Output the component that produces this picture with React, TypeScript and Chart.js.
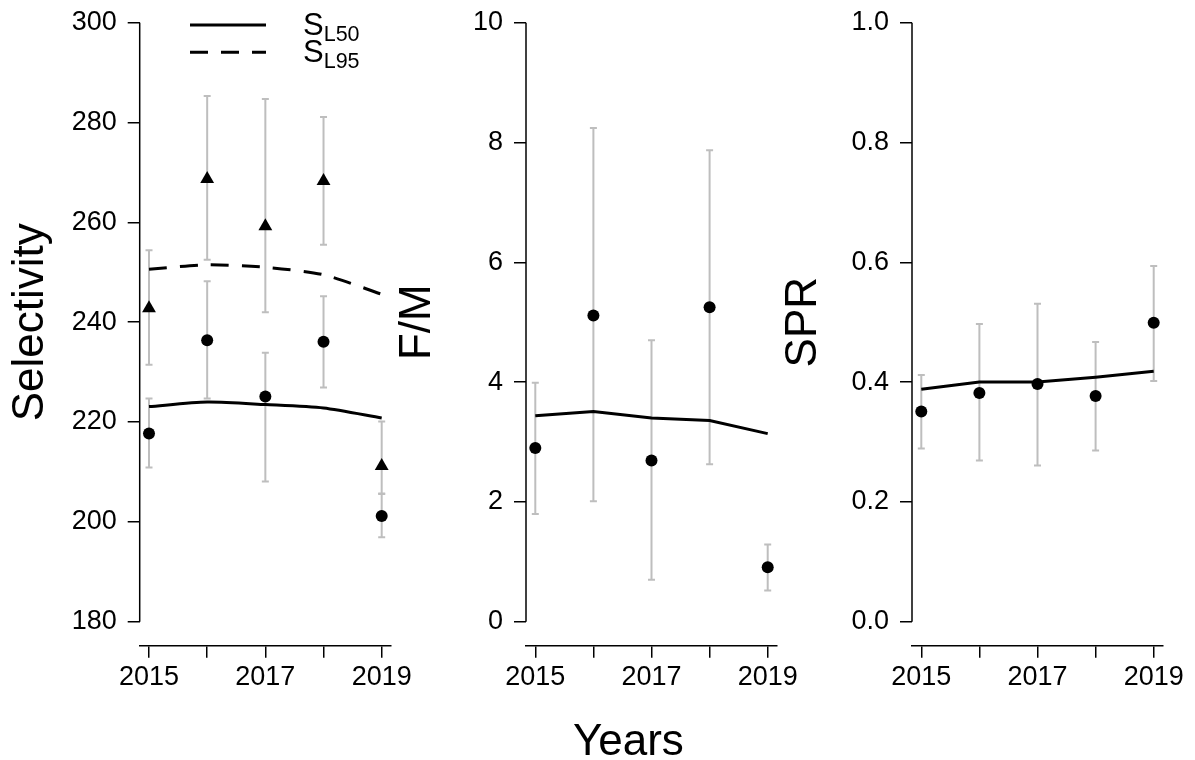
import React, { useEffect, useRef } from 'react';
import { Chart, registerables } from 'chart.js';

Chart.register(...registerables);

// ---------- data ----------
const YEARS = [2015, 2016, 2017, 2018, 2019];
const X_TICK_LABELS = ['2015', '', '2017', '', '2019'];

// Panel 1: Selectivity
const SEL_TICKS = [180, 200, 220, 240, 260, 280, 300];
const SL50_EST = [217.7, 236.4, 225.1, 236.1, 201.2];
const SL50_LO = [210.9, 224.7, 208.1, 226.9, 196.9];
const SL50_HI = [224.7, 248.2, 233.9, 245.2, 205.6];
const SL95_EST = [242.8, 268.7, 259.2, 268.3, 211.2];
const SL95_LO = [231.5, 252.5, 242.0, 255.5, 205.7];
const SL95_HI = [254.4, 285.3, 284.7, 281.1, 220.1];
const SL50_FIT = [223.1, 224.0, 223.5, 222.8, 220.8];
const SL95_FIT = [250.6, 251.5, 251.0, 249.5, 245.6];

// Panel 2: F/M
const FM_TICKS = [0, 2, 4, 6, 8, 10];
const FM_EST = [2.9, 5.11, 2.69, 5.25, 0.91];
const FM_LO = [1.8, 2.01, 0.7, 2.63, 0.52];
const FM_HI = [3.99, 8.24, 4.7, 7.87, 1.29];
const FM_FIT = [3.44, 3.51, 3.4, 3.36, 3.14];

// Panel 3: SPR
const SPR_TICKS = [0, 0.2, 0.4, 0.6, 0.8, 1.0];
const SPR_EST = [0.351, 0.382, 0.397, 0.377, 0.499];
const SPR_LO = [0.289, 0.269, 0.261, 0.286, 0.402];
const SPR_HI = [0.412, 0.497, 0.531, 0.467, 0.594];
const SPR_FIT = [0.388, 0.4, 0.4, 0.408, 0.418];

// ---------- layout ----------
const FONT = "'Liberation Sans', Arial, Helvetica, sans-serif";
const CANVAS_TOP = -40;
const CANVAS_H = 760;
const AREA_TOP = -1.3;
const AREA_BOTTOM = 645.7;
const LEFT_SPACE = 140;
const PLOT_W = 251;
const RIGHT_SPACE = 30;
const Y_AXIS_W = 134.9;

type ErrSeries = { lo: number[]; hi: number[] };
type PanelCfg = {
  plotLeft: number;
  title: string;
  ticks: number[];
  decimals: number;
  datasets: any[];
  errors: ErrSeries[];
  legend: boolean;
};

const pts = (ys: number[]) => YEARS.map((x, i) => ({ x, y: ys[i] }));

const fitLine = (ys: number[], dash: number[] = [], tension = 0) => ({
  data: pts(ys),
  showLine: true,
  borderColor: '#000',
  borderWidth: 3,
  borderDash: dash,
  borderCapStyle: 'butt',
  tension,
  pointRadius: 0,
  pointHoverRadius: 0,
});

const marks = (ys: number[], style: string, r: number) => ({
  data: pts(ys),
  showLine: false,
  pointStyle: style,
  pointRadius: r,
  pointHoverRadius: r,
  pointBackgroundColor: '#000',
  pointBorderWidth: 0,
  borderColor: '#000',
  backgroundColor: '#000',
});

const PANELS: PanelCfg[] = [
  {
    plotLeft: 139.7,
    title: 'Selectivity',
    ticks: SEL_TICKS,
    decimals: 0,
    datasets: [
      fitLine(SL50_FIT, [], 0.25),
      fitLine(SL95_FIT, [18, 13], 0.25),
      marks(SL50_EST, 'circle', 6),
      marks(SL95_EST, 'triangle', 8),
    ],
    errors: [
      { lo: SL50_LO, hi: SL50_HI },
      { lo: SL95_LO, hi: SL95_HI },
    ],
    legend: true,
  },
  {
    plotLeft: 526,
    title: 'F/M',
    ticks: FM_TICKS,
    decimals: 0,
    datasets: [fitLine(FM_FIT), marks(FM_EST, 'circle', 6)],
    errors: [{ lo: FM_LO, hi: FM_HI }],
    legend: false,
  },
  {
    plotLeft: 912,
    title: 'SPR',
    ticks: SPR_TICKS,
    decimals: 1,
    datasets: [fitLine(SPR_FIT), marks(SPR_EST, 'circle', 6)],
    errors: [{ lo: SPR_LO, hi: SPR_HI }],
    legend: false,
  },
];

function Panel({ cfg }: { cfg: PanelCfg }) {
  const ref = useRef<HTMLCanvasElement | null>(null);
  const canvasLeft = Math.round(cfg.plotLeft - LEFT_SPACE);
  const canvasW = LEFT_SPACE + PLOT_W + RIGHT_SPACE;

  useEffect(() => {
    if (!ref.current) return;
    const t = cfg.ticks;
    const yr = t[t.length - 1] - t[0];
    const xr = YEARS[YEARS.length - 1] - YEARS[0];

    const errorBars = {
      id: 'errorBars',
      beforeDatasetsDraw(chart: any) {
        const { ctx } = chart;
        const xs = chart.scales.x;
        const ys = chart.scales.y;
        ctx.save();
        ctx.strokeStyle = '#bebebe';
        ctx.lineWidth = 2;
        cfg.errors.forEach((e) => {
          YEARS.forEach((yv, i) => {
            const px = xs.getPixelForValue(yv);
            const p1 = ys.getPixelForValue(e.lo[i]);
            const p2 = ys.getPixelForValue(e.hi[i]);
            ctx.beginPath();
            ctx.moveTo(px, p1);
            ctx.lineTo(px, p2);
            ctx.moveTo(px - 3.5, p1);
            ctx.lineTo(px + 3.5, p1);
            ctx.moveTo(px - 3.5, p2);
            ctx.lineTo(px + 3.5, p2);
            ctx.stroke();
          });
        });
        ctx.restore();
      },
    };

    const yAxisLine = {
      id: 'yAxisLine',
      afterDraw(chart: any) {
        const { ctx, chartArea } = chart;
        const ys = chart.scales.y;
        ctx.save();
        ctx.strokeStyle = '#000';
        ctx.lineWidth = 1.5;
        ctx.beginPath();
        ctx.moveTo(chartArea.left, ys.getPixelForValue(t[0]));
        ctx.lineTo(chartArea.left, ys.getPixelForValue(t[t.length - 1]));
        ctx.stroke();
        ctx.restore();
      },
    };

    const legendPlugin = {
      id: 'customLegend',
      afterDraw(chart: any) {
        if (!cfg.legend) return;
        const { ctx, chartArea } = chart;
        const L = chartArea.left;
        const T = chartArea.top;
        ctx.save();
        ctx.strokeStyle = '#000';
        ctx.lineWidth = 3;
        ctx.lineCap = 'butt';
        ctx.beginPath();
        ctx.moveTo(L + 50.3, T + 26.3);
        ctx.lineTo(L + 126.3, T + 26.3);
        ctx.stroke();
        ctx.setLineDash([18, 13]);
        ctx.beginPath();
        ctx.moveTo(L + 50.3, T + 53.6);
        ctx.lineTo(L + 126.3, T + 53.6);
        ctx.stroke();
        ctx.setLineDash([]);
        ctx.fillStyle = '#000';
        ctx.textBaseline = 'alphabetic';
        ctx.textAlign = 'left';
        const items = [
          { sub: 'L50', base: T + 36.3 },
          { sub: 'L95', base: T + 63 },
        ];
        items.forEach((it) => {
          ctx.font = `31px ${FONT}`;
          const sx = L + 163.3;
          ctx.fillText('S', sx, it.base);
          const w = ctx.measureText('S').width;
          ctx.font = `21.5px ${FONT}`;
          ctx.fillText(it.sub, sx + w, it.base + 6);
        });
        ctx.restore();
      },
    };

    const chart = new Chart(ref.current, {
      type: 'scatter',
      data: { datasets: cfg.datasets as any },
      options: {
        animation: false,
        responsive: false,
        devicePixelRatio: 1,
        events: [],
        layout: {
          padding: {
            left: cfg.plotLeft - canvasLeft - Y_AXIS_W,
            right: RIGHT_SPACE,
            top: AREA_TOP - CANVAS_TOP,
            bottom: 0,
          },
        },
        plugins: {
          legend: { display: false },
          tooltip: { enabled: false },
        },
        scales: {
          x: {
            type: 'linear',
            min: YEARS[0] - 0.04 * xr,
            max: YEARS[YEARS.length - 1] + 0.04 * xr,
            afterBuildTicks: (s: any) => {
              s.ticks = YEARS.map((v) => ({ value: v }));
            },
            afterFit: (s: any) => {
              s.height = CANVAS_TOP + CANVAS_H - AREA_BOTTOM;
            },
            ticks: {
              autoSkip: false,
              maxRotation: 0,
              color: '#000',
              padding: 4,
              font: { family: FONT, size: 27 },
              callback: (_v: any, i: number) => X_TICK_LABELS[i],
            },
            grid: {
              drawOnChartArea: false,
              drawTicks: true,
              tickLength: 12,
              color: '#000',
              lineWidth: 1.5,
            },
            border: { display: true, color: '#000', width: 1.5 },
          },
          y: {
            type: 'linear',
            min: t[0] - 0.04 * yr,
            max: t[t.length - 1] + 0.04 * yr,
            afterBuildTicks: (s: any) => {
              s.ticks = t.map((v) => ({ value: v }));
            },
            afterFit: (s: any) => {
              s.width = Y_AXIS_W;
            },
            ticks: {
              autoSkip: false,
              color: '#000',
              padding: 11,
              font: { family: FONT, size: 27 },
              callback: (v: any) => Number(v).toFixed(cfg.decimals),
            },
            grid: {
              drawOnChartArea: false,
              drawTicks: true,
              tickLength: 12,
              color: '#000',
              lineWidth: 1.5,
            },
            border: { display: false },
            title: {
              display: true,
              text: cfg.title,
              color: '#000',
              font: { family: FONT, size: 44 },
              padding: 0,
            },
          },
        },
      },
      plugins: [errorBars, yAxisLine, legendPlugin],
    } as any);
    return () => chart.destroy();
  }, [cfg]);

  return (
    <canvas
      ref={ref}
      width={canvasW}
      height={CANVAS_H}
      style={{
        position: 'absolute',
        left: canvasLeft,
        top: CANVAS_TOP,
        width: canvasW,
        height: CANVAS_H,
      }}
    />
  );
}

export default function App() {
  return (
    <div
      style={{
        position: 'absolute',
        left: 0,
        top: 0,
        width: 1195,
        height: 760,
        overflow: 'hidden',
        background: '#fff',
      }}
    >
      {PANELS.map((p, i) => (
        <Panel key={i} cfg={p} />
      ))}
      <div
        style={{
          position: 'absolute',
          left: 528.4,
          width: 200,
          top: 717.8,
          textAlign: 'center',
          fontFamily: FONT,
          fontSize: 44,
          lineHeight: '44px',
          color: '#000',
        }}
      >
        Years
      </div>
    </div>
  );
}
